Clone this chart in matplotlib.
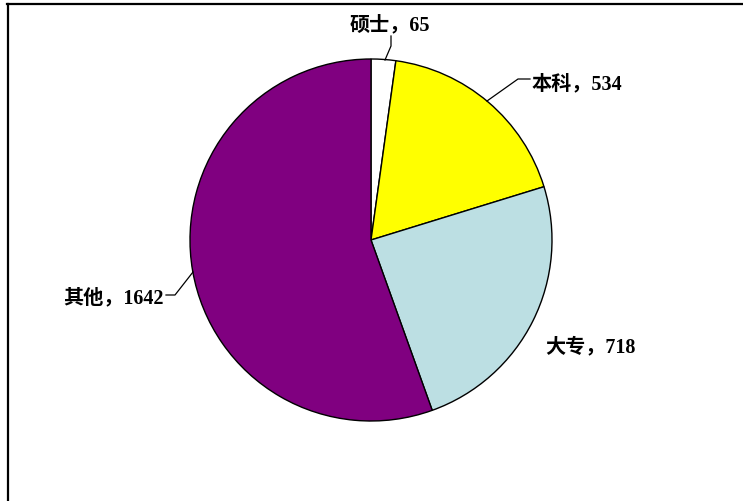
import matplotlib
matplotlib.use("Agg")
import matplotlib.pyplot as plt

categories = ["硕士", "本科", "大专", "其他"]
values = [65, 534, 718, 1642]
colors = ["#FFFFFF", "#FFFF00", "#BCDFE3", "#800080"]

W, H = 743, 502
fig = plt.figure(figsize=(W / 100, H / 100), dpi=100)
ax = fig.add_axes([0, 0, 1, 1])

cx, cy, r = 371, 241, 181
# y axis inverted: counterclock=True in data appears clockwise on screen; start at top => -90 deg
ax.pie(values, colors=colors, startangle=-90, counterclock=True,
       center=(cx, cy), radius=r, frame=True,
       wedgeprops=dict(edgecolor="black", linewidth=1.0))
ax.set_xlim(0, W)
ax.set_ylim(H, 0)
ax.set_aspect("equal")
ax.axis("off")

font = dict(family=["Liberation Serif", "Noto Sans CJK SC"], fontsize=14.5,
            fontweight="bold", color="black", va="center")

label_pos = [(350, 25, "left"), (532, 84, "left"), (545, 347, "left"), (164, 298, "right")]
for cat, v, (x, y, ha) in zip(categories, values, label_pos):
    ax.text(x, y, f"{cat}，{v}", ha=ha, **font)

leaders = [
    [(391, 37), (391, 47), (385, 61)],
    [(530, 80), (518, 80), (487, 102)],
    None,
    [(166, 296), (175, 296), (193, 273)],
]
for pts in leaders:
    if pts:
        xs, ys = zip(*pts)
        ax.plot(xs, ys, color="black", linewidth=0.9)

# border (top and left visible)
ax.plot([7, W], [4.5, 4.5], color="black", linewidth=1.6, clip_on=False)
ax.plot([7.5, 7.5], [4.5, H], color="black", linewidth=1.6, clip_on=False)

fig.savefig("out.png", dpi=100)
